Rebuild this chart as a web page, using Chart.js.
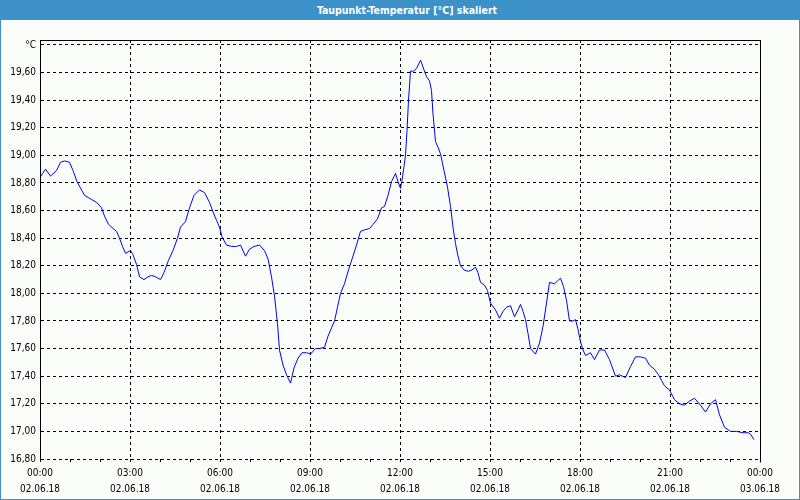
<!DOCTYPE html>
<html>
<head>
<meta charset="utf-8">
<script src="https://cdn.jsdelivr.net/npm/chart.js@4/dist/chart.umd.min.js"></script>
<style>
  html, body { margin: 0; padding: 0; background: #fbfdfb; }
  #wrap { position: relative; width: 800px; height: 500px; overflow: hidden; background: #fbfdfb; }
  #title { position: absolute; left: 0; top: 0; width: 800px; height: 20px; background: #3d91c9;
           color: #fff; font: bold 10.5px "DejaVu Sans Condensed", "Liberation Sans", sans-serif;
           line-height: 20px; text-align: center; text-indent: 14px; z-index: 2; }
  #frame { position: absolute; left: 0; top: 0; width: 798px; height: 499px; border: 1px solid #3d91c9; border-top: none; z-index: 3; pointer-events: none; }
  canvas { position: absolute; left: 0; top: 0; }
</style>
</head>
<body>
<div id="wrap">
  <div id="title">Taupunkt-Temperatur [°C] skaliert</div>
  <div id="frame"></div>
  <canvas id="c" width="800" height="500"></canvas>
</div>
<script>
// Time of each reading in minutes after 02.06.18 00:00
const minutes = [0, 11, 21, 33, 41, 49, 59, 66, 74, 83, 89, 103, 113, 123, 129, 137, 146, 153, 159, 165,
  171, 176, 181, 186, 193, 199, 208, 216, 223, 231, 241, 248, 257, 266, 275, 281, 291, 299, 308, 319,
  329, 339, 346, 353, 359, 364, 373, 383, 393, 401, 411, 419, 428, 439, 449, 456, 463, 469, 475, 479,
  486, 493, 501, 508, 516, 524, 533, 541, 551, 559, 569, 576, 583, 589, 595, 601, 609, 617, 626, 633,
  641, 649, 659, 666, 675, 683, 689, 696, 703, 711, 716, 721, 724, 728, 731, 734, 737, 741, 747, 753,
  761, 766, 773, 779, 783, 786, 791, 796, 801, 808, 815, 821, 826, 831, 836, 841, 848, 857, 864, 871,
  876, 881, 889, 895, 901, 911, 919, 926, 933, 941, 949, 956, 961, 966, 971, 976, 981, 991, 999, 1006,
  1013, 1019, 1029, 1035, 1041, 1047, 1053, 1059, 1066, 1071, 1076, 1081, 1086, 1091, 1101, 1109, 1119, 1129, 1139, 1151,
  1159, 1171, 1181, 1191, 1201, 1211, 1219, 1229, 1237, 1243, 1249, 1259, 1269, 1279, 1289, 1299, 1309, 1321, 1331, 1341,
  1351, 1359, 1369, 1381, 1393, 1406, 1417, 1421, 1428];
// Dew point temperature in °C
const dewPoint = [18.84, 18.90, 18.85, 18.89, 18.95, 18.96, 18.95, 18.89, 18.81, 18.75, 18.71, 18.68, 18.66, 18.62, 18.56, 18.50, 18.47, 18.45, 18.40, 18.34,
  18.29, 18.30, 18.31, 18.28, 18.21, 18.12, 18.10, 18.12, 18.13, 18.12, 18.10, 18.15, 18.24, 18.31, 18.40, 18.48, 18.52, 18.62, 18.71, 18.75,
  18.73, 18.66, 18.59, 18.53, 18.48, 18.41, 18.35, 18.34, 18.34, 18.35, 18.27, 18.32, 18.34, 18.35, 18.31, 18.25, 18.12, 17.98, 17.78, 17.59,
  17.48, 17.41, 17.35, 17.46, 17.53, 17.57, 17.57, 17.56, 17.60, 17.60, 17.61, 17.69, 17.75, 17.80, 17.90, 18.00, 18.07, 18.17, 18.27, 18.35,
  18.45, 18.46, 18.47, 18.50, 18.54, 18.62, 18.63, 18.71, 18.81, 18.87, 18.81, 18.76, 18.82, 18.92, 19.00, 19.18, 19.40, 19.61, 19.61, 19.63,
  19.69, 19.64, 19.57, 19.54, 19.47, 19.30, 19.10, 19.06, 19.01, 18.89, 18.77, 18.63, 18.48, 18.36, 18.27, 18.20, 18.17, 18.16, 18.17, 18.19,
  18.15, 18.08, 18.06, 18.02, 17.93, 17.88, 17.82, 17.87, 17.90, 17.91, 17.83, 17.88, 17.92, 17.87, 17.81, 17.71, 17.60, 17.56, 17.64, 17.76,
  17.93, 18.08, 18.07, 18.09, 18.11, 18.05, 17.95, 17.80, 17.80, 17.81, 17.74, 17.65, 17.59, 17.55, 17.57, 17.52, 17.59, 17.59, 17.52, 17.40,
  17.41, 17.39, 17.47, 17.54, 17.54, 17.53, 17.48, 17.45, 17.41, 17.37, 17.33, 17.30, 17.23, 17.20, 17.19, 17.22, 17.24, 17.19, 17.14, 17.20,
  17.23, 17.12, 17.03, 17.00, 17.00, 16.99, 16.99, 16.98, 16.94];

// Y axis ticks and labels
const yTickValues = [16.8, 17.0, 17.2, 17.4, 17.6, 17.8, 18.0, 18.2, 18.4, 18.6, 18.8, 19.0, 19.2, 19.4, 19.6, 19.8];
const yTickLabels = ['16,80', '17,00', '17,20', '17,40', '17,60', '17,80', '18,00', '18,20', '18,40', '18,60', '18,80', '19,00', '19,20', '19,40', '19,60', '°C'];
const yMin = 16.8, yMax = 19.836;

// X axis labelled ticks (every 3 hours) and labels
const xLabelMinutes = [0, 180, 360, 540, 720, 900, 1080, 1260, 1440];
const xTimeLabels = ['00:00', '03:00', '06:00', '09:00', '12:00', '15:00', '18:00', '21:00', '00:00'];
const xDateLabels = ['02.06.18', '02.06.18', '02.06.18', '02.06.18', '02.06.18', '02.06.18', '02.06.18', '02.06.18', '03.06.18'];
const xMinorStep = 60;

const FONT = '"DejaVu Sans Condensed", "Liberation Sans", sans-serif';

const framePlugin = {
  id: 'frame',
  afterDatasetsDraw(chart) {
    const {ctx, chartArea: a} = chart;
    ctx.save();
    ctx.strokeStyle = '#000';
    ctx.lineWidth = 1;
    ctx.beginPath();
    ctx.moveTo(Math.round(a.left) + 0.5, Math.round(a.bottom) + 0.5);
    ctx.lineTo(Math.round(a.left) + 0.5, Math.round(a.top) + 0.5);
    ctx.lineTo(Math.round(a.right) + 0.5, Math.round(a.top) + 0.5);
    ctx.lineTo(Math.round(a.right) + 0.5, Math.round(a.bottom) + 3.5);
    ctx.stroke();
    ctx.restore();
  }
};

new Chart(document.getElementById('c'), {
  type: 'line',
  data: {
    datasets: [{
      data: minutes.map((m, i) => ({x: m, y: dewPoint[i]})),
      borderColor: '#0000ee',
      borderWidth: 1,
      pointRadius: 0,
      tension: 0,
      fill: false
    }]
  },
  options: {
    responsive: false,
    devicePixelRatio: 1,
    animation: false,
    layout: { padding: { top: 40, right: 40, left: 0, bottom: 0 } },
    plugins: { legend: { display: false }, tooltip: { enabled: false }, title: { display: false } },
    scales: {
      x: {
        type: 'linear',
        min: 0,
        max: 1440,
        afterBuildTicks(scale) {
          const t = [];
          for (let v = 0; v <= 1440; v += xMinorStep) t.push({value: v});
          scale.ticks = t;
        },
        afterFit(scale) { scale.height = 41; },
        ticks: {
          autoSkip: false,
          maxRotation: 0,
          padding: 3,
          color: '#000',
          font: { family: FONT, size: 10, lineHeight: 1.6 },
          callback(value) {
            const i = xLabelMinutes.indexOf(value);
            return i >= 0 ? [xTimeLabels[i], xDateLabels[i]] : '';
          }
        },
        grid: {
          color: (c) => (c.tick && xLabelMinutes.indexOf(c.tick.value) >= 0) ? '#000' : 'rgba(0,0,0,0)',
          tickColor: '#000',
          tickLength: 3,
          lineWidth: 1,
          tickBorderDash: []
        },
        border: { display: false, dash: [3, 3] }
      },
      y: {
        min: yMin,
        max: yMax,
        afterBuildTicks(scale) { scale.ticks = yTickValues.map(v => ({value: v})); },
        afterFit(scale) { scale.width = 40; },
        ticks: {
          padding: 4,
          color: '#000',
          font: { family: FONT, size: 10 },
          callback(value) {
            const i = yTickValues.findIndex(v => Math.abs(v - value) < 1e-6);
            return i >= 0 ? yTickLabels[i] : '';
          }
        },
        grid: { color: '#000', drawTicks: false, lineWidth: 1 },
        border: { display: true, color: '#000', width: 1, dash: [3, 3] }
      }
    }
  },
  plugins: [framePlugin]
});
</script>
</body>
</html>
